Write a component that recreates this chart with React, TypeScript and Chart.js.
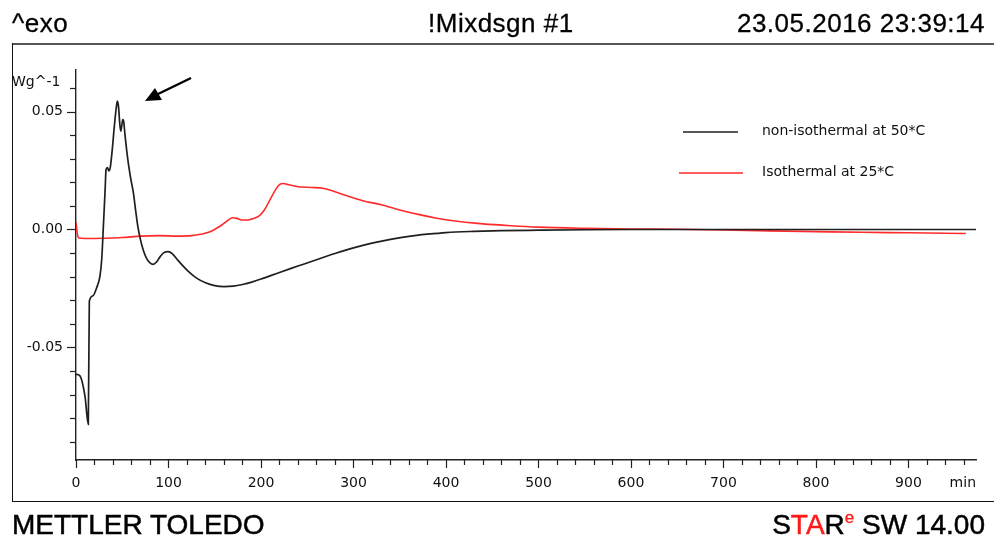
import React, { useEffect, useRef } from "react";
import { Chart, registerables } from "chart.js";

Chart.register(...registerables);

// ---- data (time in min, heat flow in W/g) ----
const blackTime = [0, 4, 9.7, 13.3, 14.4, 18, 22.4, 25.9, 27.8, 29.8, 31.5, 32.5, 34, 35.5, 37, 39, 41.5, 43.5, 44.7, 46, 47.3, 48.4, 49.5, 50.5, 51.5, 53, 56, 59, 62, 64.5, 66.8, 69.5, 72.5, 76, 80, 83.5, 87, 91, 95, 99.6, 104, 110, 120, 130, 140, 150, 160, 170, 180, 190, 200, 220, 240, 260, 280, 300, 320, 340, 360, 380, 400, 430, 460, 500, 550, 600, 700, 800, 900, 973];
const blackValue = [-0.0614, -0.0619, -0.0706, -0.0826, -0.0304, -0.0282, -0.0246, -0.0198, -0.0127, 0.0030, 0.0170, 0.0254, 0.0262, 0.0248, 0.0262, 0.0330, 0.0440, 0.0515, 0.0544, 0.0520, 0.0450, 0.0417, 0.0440, 0.0466, 0.0459, 0.0400, 0.0297, 0.0220, 0.0156, 0.0080, 0.0014, -0.0040, -0.0085, -0.0120, -0.0142, -0.0148, -0.0138, -0.0115, -0.0098, -0.0094, -0.0102, -0.0130, -0.0172, -0.0205, -0.0226, -0.0238, -0.0242, -0.0240, -0.0233, -0.0223, -0.0210, -0.0182, -0.0155, -0.0128, -0.0102, -0.0078, -0.0058, -0.0042, -0.0029, -0.0020, -0.0013, -0.0008, -0.0005, -0.0003, -0.0001, 0.0, 0.0, 0.0, 0.0, 0.0];

const redTime = [0, 1.5, 3, 10, 30, 50, 70, 90, 110, 125, 135, 145, 152, 158, 164, 169, 174, 180, 186, 192, 198, 204, 210, 216, 220, 224, 230, 240, 255, 268, 280, 295, 310, 330, 350, 370, 390, 410, 440, 470, 500, 550, 600, 650, 700, 750, 800, 850, 900, 962];
const redValue = [0.0030, -0.0020, -0.0036, -0.0038, -0.0037, -0.0034, -0.0028, -0.0026, -0.0028, -0.0026, -0.0020, -0.0010, 0.0005, 0.0020, 0.0038, 0.0050, 0.0047, 0.0040, 0.0040, 0.0047, 0.0058, 0.0085, 0.0128, 0.0170, 0.0190, 0.0195, 0.0190, 0.0181, 0.0178, 0.0174, 0.0160, 0.0140, 0.0122, 0.0105, 0.0083, 0.0064, 0.0048, 0.0036, 0.0024, 0.0016, 0.0010, 0.0005, 0.0002, 0.0001, -0.0002, -0.0006, -0.0009, -0.0012, -0.0014, -0.0017];

const seriesLabels = ["non-isothermal at 50*C", "Isothermal at 25*C"];
const seriesColors = ["#1f1f1f", "#ff2a2a"];
const yLabeled = [0.05, 0.0, -0.05];
const xLabeledStep = 100;
const xMax = 973;
const yMin = -0.0977;
const yMax = 0.0676;
const yUnit = "Wg^-1";
const xUnit = "min";

const FONT = "'DejaVu Sans', Verdana, sans-serif";

const decorPlugin = {
  id: "decor",
  afterDraw(chart: any) {
    const ctx = chart.ctx;
    const xs = chart.scales.x;
    const ys = chart.scales.y;
    const area = chart.chartArea;
    ctx.save();
    ctx.strokeStyle = "#222";
    ctx.lineWidth = 1.2;
    // x ticks
    xs.ticks.forEach((t: any) => {
      if (t.value < 0 || t.value > xMax) return;
      const px = Math.round(xs.getPixelForValue(t.value)) + 0.5;
      const major = Math.abs(t.value % xLabeledStep) < 1e-6;
      ctx.beginPath();
      ctx.moveTo(px, area.bottom);
      ctx.lineTo(px, area.bottom + (major ? 8 : 5));
      ctx.stroke();
    });
    // y ticks
    ys.ticks.forEach((t: any) => {
      if (t.value < yMin || t.value > yMax) return;
      const py = Math.round(ys.getPixelForValue(t.value)) + 0.5;
      const major = yLabeled.some((v) => Math.abs(v - t.value) < 1e-6);
      ctx.beginPath();
      ctx.moveTo(area.left, py);
      ctx.lineTo(area.left - (major ? 9 : 6), py);
      ctx.stroke();
    });
    // unit labels
    ctx.fillStyle = "#111";
    ctx.font = "14px " + FONT;
    ctx.textBaseline = "middle";
    ctx.textAlign = "left";
    ctx.fillText(yUnit, 12, 82);
    ctx.textAlign = "right";
    ctx.fillText(xUnit, 976, 483);
    // legend
    ctx.textAlign = "left";
    const legendRows = [
      { y: 132, x0: 683, x1: 738 },
      { y: 173, x0: 679, x1: 743 },
    ];
    legendRows.forEach((r, i) => {
      ctx.strokeStyle = seriesColors[i];
      ctx.lineWidth = 1.6;
      ctx.beginPath();
      ctx.moveTo(r.x0, r.y);
      ctx.lineTo(r.x1, r.y);
      ctx.stroke();
      ctx.fillStyle = "#111";
      ctx.fillText(seriesLabels[i], 762, r.y - 1);
    });
    // arrow
    ctx.strokeStyle = "#000";
    ctx.fillStyle = "#000";
    ctx.lineWidth = 2.4;
    ctx.beginPath();
    ctx.moveTo(191, 78);
    ctx.lineTo(156, 95);
    ctx.stroke();
    ctx.beginPath();
    ctx.moveTo(145, 101);
    ctx.lineTo(155, 88);
    ctx.lineTo(162, 100);
    ctx.closePath();
    ctx.fill();
    ctx.restore();
  },
};

export default function App() {
  const ref = useRef<HTMLCanvasElement | null>(null);

  useEffect(() => {
    document.body.style.margin = "0";
    const canvas = ref.current;
    if (!canvas) return;
    const chart = new Chart(canvas, {
      type: "scatter",
      data: {
        datasets: [
          {
            label: seriesLabels[0],
            data: blackTime.map((t, i) => ({ x: t, y: blackValue[i] })),
            showLine: true,
            borderColor: seriesColors[0],
            borderWidth: 1.7,
            pointRadius: 0,
            cubicInterpolationMode: "monotone",
          },
          {
            label: seriesLabels[1],
            data: redTime.map((t, i) => ({ x: t, y: redValue[i] })),
            showLine: true,
            borderColor: seriesColors[1],
            borderWidth: 1.6,
            pointRadius: 0,
            cubicInterpolationMode: "monotone",
          },
        ],
      },
      options: {
        responsive: false,
        animation: false,
        devicePixelRatio: 1,
        layout: { padding: { top: 70, right: 18, left: 0, bottom: 0 } },
        plugins: { legend: { display: false }, tooltip: { enabled: false } },
        scales: {
          x: {
            type: "linear",
            min: 0,
            max: xMax,
            afterFit: (s: any) => {
              s.height = 78;
            },
            grid: { display: true, drawOnChartArea: false, drawTicks: false },
            border: { display: true, color: "#222", width: 1.4 },
            ticks: {
              stepSize: 20,
              autoSkip: false,
              maxRotation: 0,
              includeBounds: false,
              padding: 15,
              color: "#111",
              font: { family: FONT, size: 14 },
              callback: (v: any) => {
                const n = Number(v);
                return Math.abs(n % xLabeledStep) < 1e-6 && n <= 900 ? String(Math.round(n)) : "";
              },
            },
          },
          y: {
            type: "linear",
            min: yMin,
            max: yMax,
            afterFit: (s: any) => {
              s.width = 76;
            },
            grid: { display: true, drawOnChartArea: false, drawTicks: false },
            border: { display: true, color: "#222", width: 1.4 },
            ticks: {
              stepSize: 0.01,
              autoSkip: false,
              includeBounds: false,
              padding: 13,
              color: "#111",
              font: { family: FONT, size: 14 },
              callback: (v: any) => {
                const n = Number(v);
                const hit = yLabeled.find((l) => Math.abs(l - n) < 1e-6);
                return hit === undefined ? "" : (Math.abs(hit) < 1e-9 ? 0 : hit).toFixed(2);
              },
            },
          },
        },
      },
      plugins: [decorPlugin],
    } as any);
    return () => chart.destroy();
  }, []);

  const head: React.CSSProperties = {
    position: "absolute",
    top: 10,
    fontFamily: "'Liberation Sans', Arial, sans-serif",
    fontSize: 26,
    lineHeight: "26px",
    letterSpacing: "0.5px",
    color: "#000",
    whiteSpace: "nowrap",
    WebkitTextStroke: "0.3px #000",
  };
  const foot: React.CSSProperties = {
    position: "absolute",
    top: 511,
    height: 28,
    fontFamily: "'Liberation Sans', Arial, sans-serif",
    fontSize: 28,
    lineHeight: "28px",
    color: "#000",
    whiteSpace: "nowrap",
    WebkitTextStroke: "0.5px #000",
  };

  return (
    <div style={{ position: "fixed", left: 0, top: 0, width: 994, height: 538, background: "#fff", overflow: "hidden" }}>
      <div style={{ position: "absolute", left: 12, top: 43, width: 994, height: 0, borderTop: "2px solid #555" }} />
      <div style={{ position: "absolute", left: 12, top: 43, width: 0, height: 459, borderLeft: "1.5px solid #111" }} />
      <div style={{ position: "absolute", left: 12, top: 501, width: 994, height: 0, borderTop: "1.5px solid #111" }} />
      <canvas ref={ref} width={994} height={538} style={{ position: "absolute", left: 0, top: 0, display: "block" }} />
      <div style={{ ...head, left: 12 }}>^exo</div>
      <div style={{ ...head, left: 428 }}>!Mixdsgn #1</div>
      <div style={{ ...head, right: 9 }}>23.05.2016 23:39:14</div>
      <div style={{ ...foot, left: 12 }}>METTLER TOLEDO</div>
      <div style={{ ...foot, right: 9 }}>
        S<span style={{ color: "#ff1a1a", WebkitTextStroke: "0.5px #ff1a1a" }}>TA</span>R
        <span style={{ color: "#ff1a1a", fontSize: 17, position: "relative", top: -11, WebkitTextStroke: "0.3px #ff1a1a" }}>e</span> SW 14.00
      </div>
    </div>
  );
}
